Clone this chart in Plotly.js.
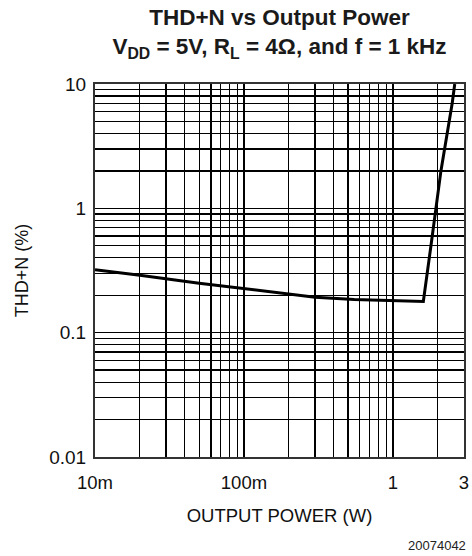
<!DOCTYPE html>
<html>
<head>
<meta charset="utf-8">
<script src="https://cdn.plot.ly/plotly-3.0.1.min.js"></script>
<style>html,body{margin:0;padding:0;background:#fff;}#chart{width:472px;height:556px;}</style>
</head>
<body>
<div id="chart"></div>
<script>
// Data
const powerW = [0.01, 0.02, 0.05, 0.1, 0.15, 0.3, 0.55, 1.0, 1.6, 1.8, 2.1, 2.5, 2.6];
const thdPct = [0.32, 0.29, 0.25, 0.225, 0.212, 0.193, 0.185, 0.18, 0.178, 0.5, 2.0, 7.0, 10];

const xTickVals = [0.01, 0.1, 1, 3];
const xTickText = ['10m', '100m', '1', '3'];
const xMinorVals = [0.02,0.03,0.04,0.05,0.06,0.07,0.08,0.09,0.2,0.3,0.4,0.5,0.6,0.7,0.8,0.9,2];
const yTickVals = [0.01, 0.1, 1, 10];
const yTickText = ['0.01', '0.1', '1', '10'];
const yMinorVals = [0.02,0.03,0.04,0.05,0.06,0.07,0.08,0.09,0.2,0.3,0.4,0.5,0.6,0.7,0.8,0.9,2,3,4,5,6,7,8,9];

const FONT = 'Liberation Sans, Arial, Helvetica, sans-serif';

const trace = {
  x: powerW, y: thdPct, type: 'scatter', mode: 'lines',
  line: {color: '#000', width: 3}, hoverinfo: 'skip'
};

const gridStyle = {showgrid: true, gridcolor: '#000', gridwidth: 1.2, ticks: ''};

const layout = {
  width: 472, height: 556,
  margin: {l: 95, r: 8, t: 84, b: 99},
  paper_bgcolor: '#fff', plot_bgcolor: '#fff',
  showlegend: false,
  font: {family: FONT, color: '#111'},
  title: {
    text: 'THD+N vs Output Power<br>V<sub>DD</sub> = 5V, R<sub>L</sub> = 4Ω, and f = 1 kHz',
    font: {family: FONT, size: 22.5, color: '#1a1a1a', weight: 'bold'},
    x: 0.5, xanchor: 'center', xref: 'paper',
    y: 0.955, yanchor: 'top', yref: 'container'
  },
  xaxis: {
    type: 'log', range: [Math.log10(0.01), Math.log10(3)],
    tickmode: 'array', tickvals: xTickVals, ticktext: xTickText,
    showgrid: true, gridcolor: '#000', gridwidth: 1.2,
    minor: Object.assign({tickmode: 'array', tickvals: xMinorVals}, gridStyle),
    showline: true, linecolor: '#333', linewidth: 2, mirror: true,
    ticks: '', ticklabelstandoff: 8,
    tickfont: {family: FONT, size: 18.5, color: '#111'},
    zeroline: false,
    title: {text: 'OUTPUT POWER (W)', font: {family: FONT, size: 18.5, color: '#111'}, standoff: 17}
  },
  yaxis: {
    type: 'log', range: [Math.log10(0.01), Math.log10(10)],
    tickmode: 'array', tickvals: yTickVals, ticktext: yTickText,
    showgrid: true, gridcolor: '#000', gridwidth: 1.2,
    minor: Object.assign({tickmode: 'array', tickvals: yMinorVals}, gridStyle),
    showline: true, linecolor: '#333', linewidth: 2, mirror: true,
    ticks: '', ticklabelstandoff: 3,
    tickfont: {family: FONT, size: 19, color: '#111'},
    zeroline: false,
    title: {text: 'THD+N (%)', font: {family: FONT, size: 18, color: '#111'}, standoff: 16}
  },
  annotations: [{
    text: '20074042', xref: 'paper', yref: 'paper',
    x: 1.01, y: -0.236, xanchor: 'right', yanchor: 'middle',
    showarrow: false, font: {family: FONT, size: 13, color: '#222'}
  }]
};

Plotly.newPlot('chart', [trace], layout, {displayModeBar: false, staticPlot: true});
</script>
</body>
</html>
